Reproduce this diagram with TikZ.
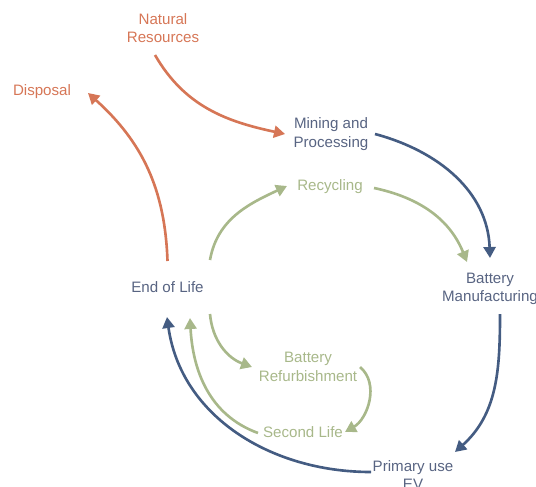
\documentclass[tikz,border=0pt]{standalone}
\usepackage{fontspec}
\setmainfont{Liberation Sans}
\usetikzlibrary{arrows.meta}
\definecolor{orng}{RGB}{214,118,86}
\definecolor{navy}{RGB}{68,92,130}
\definecolor{slate}{RGB}{88,100,130}
\definecolor{sage}{RGB}{168,184,138}
\tikzstyle{stage} = [align=center, inner sep=0pt, font=\fontsize{8.6}{10.4}\selectfont]
\tikzstyle{flow} = [line width=1.5pt, -{Triangle[length=0.22cm,width=0.24cm]}]

\begin{document}
\begin{tikzpicture}
\useasboundingbox (0,0) rectangle (10.72,9.72);
% stages
\node[stage, text=orng] (natres) at (3.26,9.16) {Natural\\Resources};
\node[stage, text=orng] (disp) at (0.84,7.88) {Disposal};
\node[stage, text=slate] (mine) at (6.62,7.04) {Mining and\\Processing};
\node[stage, text=sage] (recyc) at (6.60,5.98) {Recycling};
\node[stage, text=slate] (eol) at (3.35,3.98) {End of Life};
\node[stage, text=slate] (batman) at (9.80,3.94) {Battery\\Manufacturing};
\node[stage, text=sage] (refurb) at (6.16,2.38) {Battery\\Refurbishment};
\node[stage, text=sage] (second) at (6.06,1.08) {Second Life};
\node[stage, text=slate] (primary) at (8.26,0.22) {Primary use\\EV};
% flows
\draw[flow, orng] ([shift={(-0.16,-0.54)}]natres.center) to[out=-60,in=168] ([shift={(-0.92,0)}]mine.center);
\draw[flow, orng] ([shift={(0,0.52)}]eol.center) to[out=92,in=-42] ([shift={(0.92,-0.02)}]disp.center);
\draw[flow, navy] ([shift={(0.88,0)}]mine.center) to[out=-15,in=92] ([shift={(0,0.62)}]batman.center);
\draw[flow, sage] ([shift={(0.88,-0.02)}]recyc.center) to[out=-12,in=112] ([shift={(-0.46,0.54)}]batman.center);
\draw[flow, sage] ([shift={(0.85,0.54)}]eol.center) to[out=80,in=205] ([shift={(-0.86,0.02)}]recyc.center);
\draw[flow, sage] ([shift={(0.85,-0.54)}]eol.center) to[out=-85,in=160] ([shift={(-1.12,0)}]refurb.center);
\draw[flow, sage] ([shift={(1.04,0)}]refurb.center) to[out=-40,in=30] ([shift={(0.84,0)}]second.center);
\draw[flow, sage] ([shift={(-0.90,-0.02)}]second.center) to[out=160,in=-87] ([shift={(0.45,-0.62)}]eol.center);
\draw[flow, navy] ([shift={(-0.84,0.06)}]primary.center) to[out=180,in=-82] ([shift={(-0.01,-0.60)}]eol.center);
\draw[flow, navy] ([shift={(0.20,-0.50)}]batman.center) to[out=-90,in=42] ([shift={(0.84,0.46)}]primary.center);
\end{tikzpicture}
\end{document}
